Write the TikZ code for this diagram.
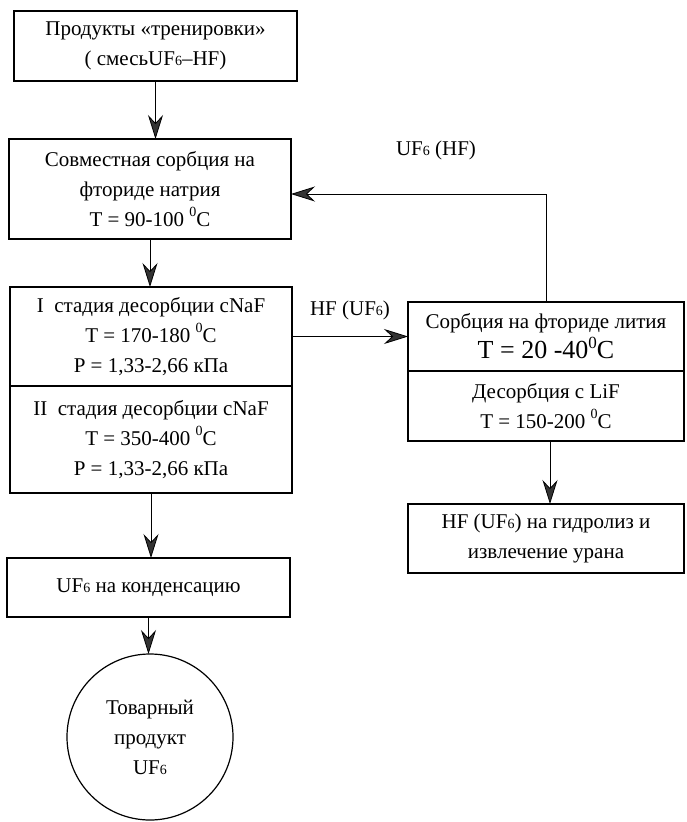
\documentclass[tikz,border=0pt]{standalone}
\usepackage{fontspec}
\setmainfont{Liberation Serif}
\usetikzlibrary{arrows.meta,calc}
\newcommand\sixsub{{\fontsize{14pt}{14pt}\selectfont 6}}
\newcommand\degz{\raisebox{1.0ex}{\fontsize{14pt}{14pt}\selectfont 0}}
\begin{document}
\begin{tikzpicture}[x=1pt,y=-1pt,
  every node/.style={font=\fontsize{21pt}{30pt}\selectfont, inner sep=0pt, outer sep=0pt},
  procbox/.style={draw, line width=1.2pt, rectangle, align=center},
  roundbox/.style={draw, line width=1.2pt, circle, align=center, minimum size=166pt},
  lbl/.style={align=center},
  flow/.style={line width=0.8pt, -{Stealth[length=24pt,width=15pt,inset=8pt,fill=black!80]}}]
\useasboundingbox (0,0) rectangle (686,822);
% left column
\node[procbox, minimum width=283pt, minimum height=70pt] (p1) at (155.5,46)
  {Продукты «тренировки»\\( смесьUF\sixsub–HF)};
\node[procbox, minimum width=282pt, minimum height=100pt] (p2) at (150,189)
  {Совместная сорбция на\\фториде натрия\\T = 90-100 \degz C};
\node[procbox, minimum width=282pt, minimum height=99pt] (p3) at (151,336.5)
  {I\ \ стадия десорбции cNaF\\T = 170-180 \degz C\\P = 1,33-2,66 кПа};
\node[procbox, minimum width=282pt, minimum height=107pt] (p4) at (151,439.5)
  {II\ \ стадия десорбции cNaF\\T = 350-400 \degz C\\P = 1,33-2,66 кПа};
\node[procbox, minimum width=283pt, minimum height=59pt] (p5) at (148.5,587.5)
  {UF\sixsub{} на конденсацию};
\node[roundbox] (p6) at (150,737) {Товарный\\продукт\\UF\sixsub};
% right column
\node[procbox, minimum width=276pt, minimum height=69pt] (r1) at (546,336.5)
  {Сорбция на фториде лития\\{\fontsize{26pt}{30pt}\selectfont T = 20 -40\raisebox{0.9ex}{\fontsize{17pt}{17pt}\selectfont 0}C}};
\node[procbox, minimum width=276pt, minimum height=70pt] (r2) at (546,406)
  {Десорбция с LiF\\T = 150-200 \degz C};
\node[procbox, minimum width=276pt, minimum height=69pt] (r3) at (546,538.5)
  {HF (UF\sixsub) на гидролиз и\\извлечение урана};
% labels
\node[lbl] (l1) at (436,150) {UF\sixsub{} (HF)};
\node[lbl] (l2) at (350,310) {HF (UF\sixsub)};
% connectors
\draw[flow] (p1.south) -- (p1.south |- p2.north);
\draw[flow] (p2.south) -- (p2.south |- p3.north);
\draw[flow] (p4.south) -- (p4.south |- p5.north);
\draw[flow] (p5.south) -- (p5.south |- p6.north);
\draw[flow] (p3.east) -- (r1.west);
\coordinate (fb) at ($(r1.north)+(0,-108)$);
\draw[flow] (r1.north) -- (fb) -- (fb -| p2.east);
\coordinate (dn) at ($(r2.south)+(4,0)$);
\draw[flow] (dn) -- (dn |- r3.north);
\end{tikzpicture}
\end{document}
